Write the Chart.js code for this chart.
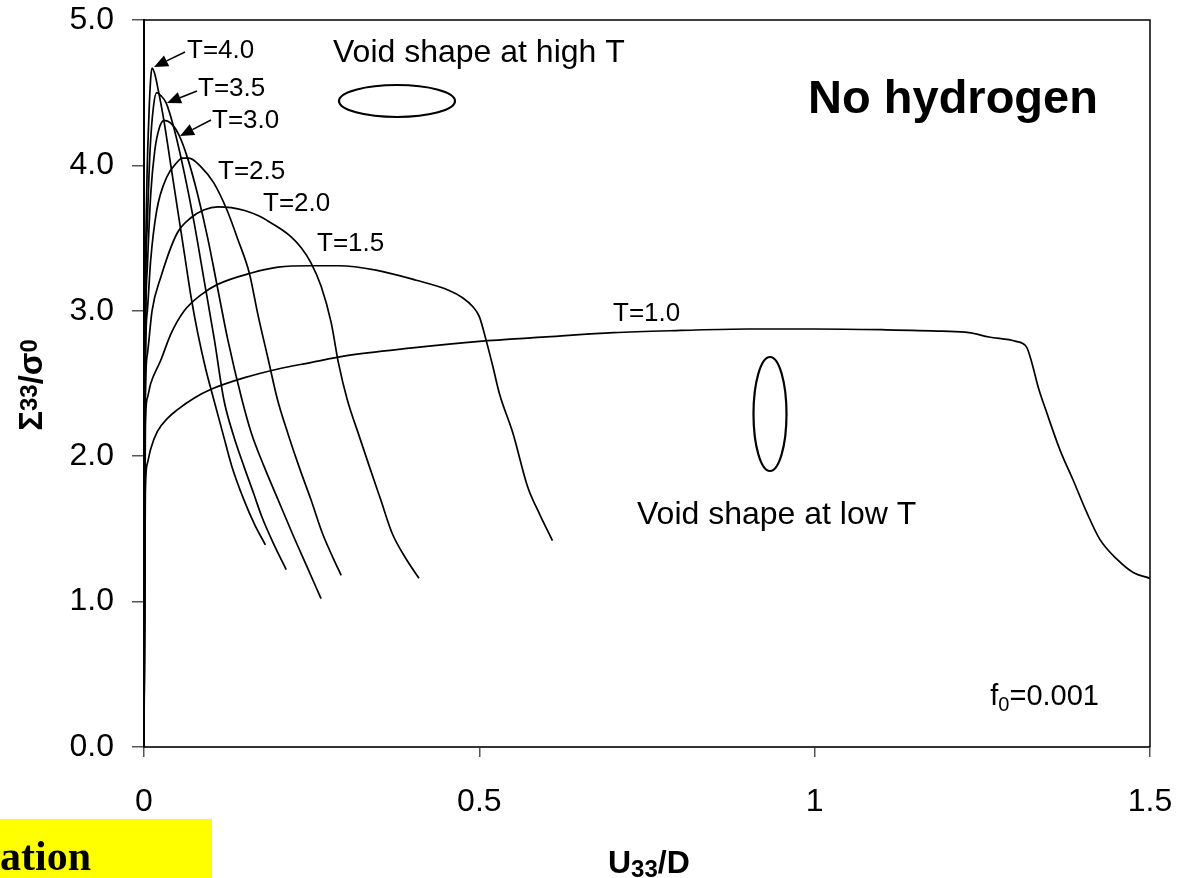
<!DOCTYPE html>
<html><head><meta charset="utf-8">
<script src="https://cdn.jsdelivr.net/npm/chart.js@4/dist/chart.umd.min.js"></script>
<style>html,body{margin:0;padding:0;background:#fff;}canvas{display:block;}</style>
</head><body>
<canvas id="c" width="1181" height="878"></canvas>
<script>
// ---- data ----
const xTicks = [0, 0.5, 1, 1.5];
const xTickLabels = ['0', '0.5', '1', '1.5'];
const yTicks = [0, 1, 2, 3, 4, 5];
const yTickLabels = ['0.0', '1.0', '2.0', '3.0', '4.0', '5.0'];
const seriesNames = ['T=1.0', 'T=1.5', 'T=2.0', 'T=2.5', 'T=3.0', 'T=3.5', 'T=4.0'];

const t10_x = [0, 0.002, 0.005, 0.01, 0.02, 0.035, 0.05, 0.075, 0.1, 0.15, 0.2, 0.25, 0.3, 0.4, 0.5, 0.6, 0.7, 0.8, 0.9, 1.0, 1.1, 1.19, 1.23, 1.26, 1.30, 1.316, 1.324, 1.333, 1.346, 1.366, 1.385, 1.406, 1.425, 1.451, 1.475, 1.5];
const t10_y = [0, 1.75, 1.95, 2.05, 2.17, 2.26, 2.32, 2.40, 2.46, 2.54, 2.60, 2.645, 2.69, 2.745, 2.79, 2.82, 2.85, 2.865, 2.875, 2.875, 2.87, 2.86, 2.85, 2.82, 2.79, 2.75, 2.64, 2.48, 2.30, 2.04, 1.84, 1.61, 1.43, 1.29, 1.20, 1.16];

const t15_x = [0, 0.002, 0.005, 0.01, 0.025, 0.04, 0.06, 0.085, 0.109, 0.16, 0.2, 0.25, 0.29, 0.346, 0.406, 0.455, 0.475, 0.49, 0.50, 0.51, 0.52, 0.53, 0.55, 0.572, 0.59, 0.609];
const t15_y = [0, 2.2, 2.4, 2.5, 2.66, 2.84, 3.0, 3.11, 3.18, 3.26, 3.30, 3.31, 3.31, 3.28, 3.21, 3.14, 3.09, 3.03, 2.96, 2.80, 2.62, 2.43, 2.16, 1.79, 1.60, 1.42];

const t20_x = [0, 0.002, 0.005, 0.012, 0.025, 0.049, 0.07, 0.09, 0.11, 0.13, 0.15, 0.17, 0.184, 0.2, 0.219, 0.235, 0.249, 0.264, 0.279, 0.29, 0.303, 0.32, 0.336, 0.353, 0.37, 0.39, 0.41];
const t20_y = [0, 2.4, 2.7, 3.0, 3.23, 3.53, 3.64, 3.695, 3.715, 3.71, 3.69, 3.655, 3.62, 3.575, 3.51, 3.43, 3.33, 3.17, 2.92, 2.64, 2.39, 2.15, 1.93, 1.70, 1.47, 1.30, 1.16];

const t25_x = [0, 0.002, 0.005, 0.01, 0.019, 0.034, 0.049, 0.057, 0.067, 0.085, 0.104, 0.124, 0.14, 0.157, 0.17, 0.185, 0.199, 0.215, 0.231, 0.249, 0.266, 0.28, 0.294];
const t25_y = [0, 2.6, 3.0, 3.35, 3.69, 3.92, 4.02, 4.05, 4.05, 3.99, 3.88, 3.69, 3.49, 3.26, 2.97, 2.67, 2.39, 2.15, 1.93, 1.70, 1.47, 1.32, 1.18];

const t30_x = [0, 0.002, 0.005, 0.01, 0.016, 0.023, 0.030, 0.04, 0.052, 0.065, 0.08, 0.095, 0.11, 0.125, 0.146, 0.16, 0.179, 0.2, 0.221, 0.243, 0.264];
const t30_y = [0, 2.7, 3.3, 3.8, 4.1, 4.26, 4.31, 4.29, 4.21, 4.05, 3.8, 3.5, 3.15, 2.8, 2.39, 2.16, 1.93, 1.70, 1.47, 1.24, 1.02];

const t35_x = [0, 0.002, 0.005, 0.009, 0.014, 0.019, 0.025, 0.033, 0.045, 0.06, 0.075, 0.09, 0.105, 0.119, 0.133, 0.149, 0.163, 0.176, 0.194, 0.212];
const t35_y = [0, 2.9, 3.6, 4.1, 4.4, 4.50, 4.48, 4.43, 4.25, 3.95, 3.6, 3.2, 2.8, 2.39, 2.15, 1.93, 1.75, 1.58, 1.39, 1.22];

const t40_x = [0, 0.002, 0.004, 0.007, 0.01, 0.012, 0.016, 0.022, 0.03, 0.04, 0.05, 0.06, 0.07, 0.08, 0.092, 0.104, 0.118, 0.131, 0.149, 0.165, 0.181];
const t40_y = [0, 3.0, 3.8, 4.3, 4.6, 4.67, 4.63, 4.5, 4.3, 4.0, 3.7, 3.4, 3.1, 2.85, 2.6, 2.39, 2.15, 1.93, 1.70, 1.53, 1.39];

// ---- build ----
const seriesX = [t10_x, t15_x, t20_x, t25_x, t30_x, t35_x, t40_x];
const seriesY = [t10_y, t15_y, t20_y, t25_y, t30_y, t35_y, t40_y];
const FONT = "'Liberation Sans', Arial, Helvetica, sans-serif";

const datasets = seriesNames.map((name, i) => ({
  label: name,
  data: seriesX[i].map((x, j) => ({ x: x, y: seriesY[i][j] })),
  borderColor: '#000',
  borderWidth: 1.7,
  pointRadius: 0,
  fill: false,
  cubicInterpolationMode: 'monotone'
}));

function arrow(ctx, x1, y1, x2, y2) {
  ctx.save();
  ctx.strokeStyle = '#000'; ctx.fillStyle = '#000'; ctx.lineWidth = 1.5;
  const a = Math.atan2(y2 - y1, x2 - x1);
  const L = 14, W = 6;
  const bx = x2 - L * Math.cos(a), by = y2 - L * Math.sin(a);
  ctx.beginPath(); ctx.moveTo(x1, y1); ctx.lineTo(bx, by); ctx.stroke();
  ctx.beginPath();
  ctx.moveTo(x2, y2);
  ctx.lineTo(bx + W * Math.sin(a), by - W * Math.cos(a));
  ctx.lineTo(bx - W * Math.sin(a), by + W * Math.cos(a));
  ctx.closePath(); ctx.fill();
  ctx.restore();
}

const decor = {
  id: 'decor',
  beforeDraw(chart) {
    const ctx = chart.ctx;
    ctx.save(); ctx.fillStyle = '#fff'; ctx.fillRect(0, 0, chart.width, chart.height); ctx.restore();
  },
  afterDraw(chart) {
    const ctx = chart.ctx;
    const a = chart.chartArea;
    ctx.save();
    ctx.strokeStyle = '#000'; ctx.lineWidth = 1.5;
    ctx.beginPath(); ctx.moveTo(a.left, a.top); ctx.lineTo(a.right, a.top); ctx.lineTo(a.right, a.bottom); ctx.stroke();

    ctx.fillStyle = '#000';
    ctx.textBaseline = 'middle'; ctx.textAlign = 'left';
    ctx.font = '26px ' + FONT;
    const tl = [['T=4.0', 187, 51], ['T=3.5', 198, 89], ['T=3.0', 212, 121], ['T=2.5', 218, 172], ['T=2.0', 263, 204], ['T=1.5', 317, 244], ['T=1.0', 613, 314]];
    tl.forEach(t => ctx.fillText(t[0], t[1], t[2]));
    arrow(ctx, 185, 52, 154, 67);
    arrow(ctx, 197, 91, 167, 103);
    arrow(ctx, 211, 120, 180, 136);

    ctx.font = '32px ' + FONT;
    ctx.fillText('Void shape at high T', 333, 53);
    ctx.fillText('Void shape at low T', 637, 515);

    ctx.lineWidth = 2.2;
    ctx.beginPath(); ctx.ellipse(397, 101, 58, 16, 0, 0, Math.PI * 2); ctx.stroke();
    ctx.beginPath(); ctx.ellipse(770, 414, 16.5, 57, 0, 0, Math.PI * 2); ctx.stroke();

    ctx.font = 'bold 47px ' + FONT;
    ctx.textAlign = 'center';
    ctx.fillText('No hydrogen', 953, 100);

    // f0 = 0.001, right edge ~1098
    ctx.textAlign = 'left'; ctx.textBaseline = 'alphabetic';
    const fParts = [['f', 29, 0], ['0', 20, 6], ['=0.001', 29, 0]];
    let fw = 0;
    fParts.forEach(p => { ctx.font = p[1] + 'px ' + FONT; fw += ctx.measureText(p[0]).width; });
    let fx = 1099 - fw, fy = 705;
    fParts.forEach(p => { ctx.font = p[1] + 'px ' + FONT; ctx.fillText(p[0], fx, fy + p[2]); fx += ctx.measureText(p[0]).width; });

    ctx.font = 'bold 32px ' + FONT;
    let ux = 608, uy = 873;
    ctx.fillText('U', ux, uy); ux += ctx.measureText('U').width;
    ctx.font = 'bold 24px ' + FONT; ctx.fillText('33', ux, uy + 4); ux += ctx.measureText('33').width;
    ctx.font = 'bold 32px ' + FONT; ctx.fillText('/D', ux, uy);

    ctx.save();
    ctx.translate(42, 385); ctx.rotate(-Math.PI / 2);
    const parts = [['\u03A3', 33, 0], ['33', 24, -5], ['/\u03C3', 33, 0], ['0', 24, -5]];
    let total = 0;
    parts.forEach(p => { ctx.font = 'bold ' + p[1] + 'px ' + FONT; total += ctx.measureText(p[0]).width; });
    let px = -total / 2;
    parts.forEach(p => { ctx.font = 'bold ' + p[1] + 'px ' + FONT; ctx.fillText(p[0], px, p[2]); px += ctx.measureText(p[0]).width; });
    ctx.restore();

    ctx.fillStyle = '#ffff00';
    ctx.fillRect(0, 819, 212, 59);
    ctx.fillStyle = '#000';
    ctx.font = "bold 42px 'Liberation Serif', 'Times New Roman', serif";
    ctx.fillText('ation', 0, 870);
    ctx.restore();
  }
};

new Chart(document.getElementById('c'), {
  type: 'line',
  data: { datasets: datasets },
  options: {
    responsive: false,
    animation: false,
    layout: { padding: { top: 20, right: 31, left: 0, bottom: 0 } },
    plugins: { legend: { display: false }, tooltip: { enabled: false } },
    scales: {
      x: {
        type: 'linear', min: 0, max: 1.5,
        afterFit(s) { s.height = 131; s.paddingLeft = 0; s.paddingRight = 0; },
        afterBuildTicks(s) { s.ticks = xTicks.map(v => ({ value: v })); },
        ticks: { callback: v => xTickLabels[xTicks.indexOf(v)], color: '#000', font: { family: FONT, size: 32 }, padding: 26, maxRotation: 0 },
        grid: { drawOnChartArea: false, tickLength: 10, color: '#555', lineWidth: 1.5 },
        border: { color: '#333', width: 2 }
      },
      y: {
        type: 'linear', min: 0, max: 5,
        afterFit(s) { s.width = 144; s.paddingTop = 0; s.paddingBottom = 0; },
        afterBuildTicks(s) { s.ticks = yTicks.map(v => ({ value: v })); },
        ticks: { callback: v => yTickLabels[yTicks.indexOf(v)], color: '#000', font: { family: FONT, size: 32 }, padding: 18 },
        grid: { drawOnChartArea: false, tickLength: 12, color: '#555', lineWidth: 1.5 },
        border: { color: '#000', width: 2 }
      }
    }
  },
  plugins: [decor]
});
</script>
</body></html>
